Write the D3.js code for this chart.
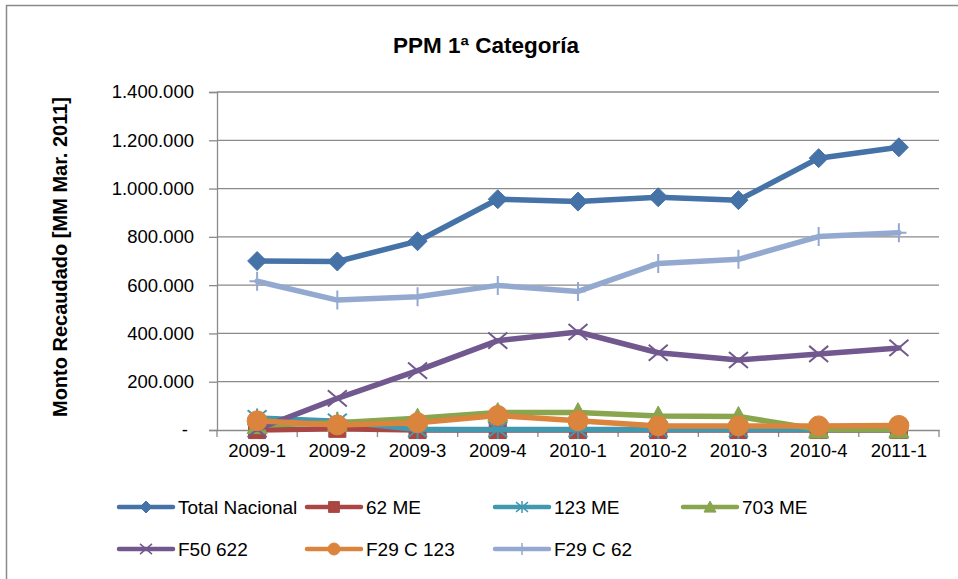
<!DOCTYPE html>
<html>
<head>
<meta charset="utf-8">
<script src="https://cdn.jsdelivr.net/npm/d3@7"></script>
<style>
  body { margin: 0; background: #fff; }
  text { font-family: 'Liberation Sans', Arial, sans-serif; fill: #000; }
</style>
</head>
<body>
<div id="chart"></div>
<script>
const categories = ['2009-1', '2009-2', '2009-3', '2009-4', '2010-1', '2010-2', '2010-3', '2010-4', '2011-1'];

const totalNacional = [700000, 698000, 782000, 956000, 946000, 964000, 952000, 1126000, 1171000];
const me62 = [0, 5000, 0, 0, 0, 0, 0, 0, 0];
const me123 = [50000, 36000, 2000, 2000, 2000, 2000, 2000, 2000, 2000];
const me703 = [20000, 30000, 49000, 72000, 72000, 58000, 56000, 2000, 2000];
const f50622 = [3000, 131000, 246000, 370000, 406000, 320000, 290000, 315000, 340000];
const f29c123 = [38000, 21000, 30000, 60000, 38000, 17000, 17000, 17000, 19000];
const f29c62 = [616000, 538000, 552000, 599000, 574000, 690000, 707000, 801000, 817000];

const yTicks = [0, 200000, 400000, 600000, 800000, 1000000, 1200000, 1400000];
const yTickLabels = ['-', '200.000', '400.000', '600.000', '800.000', '1.000.000', '1.200.000', '1.400.000'];

const series = [
  { name: 'Total Nacional', values: totalNacional, color: '#4572A7', marker: 'diamond' },
  { name: '62 ME', values: me62, color: '#AA4643', marker: 'square' },
  { name: '123 ME', values: me123, color: '#4198AF', marker: 'star' },
  { name: '703 ME', values: me703, color: '#89A54E', marker: 'triangle' },
  { name: 'F50 622', values: f50622, color: '#71588F', marker: 'x' },
  { name: 'F29 C 123', values: f29c123, color: '#DB843D', marker: 'circle' },
  { name: 'F29 C 62', values: f29c62, color: '#93A9CF', marker: 'plus' },
];

const size = { width: 958, height: 579 };
const plot = { left: 217, right: 939, top: 92, bottom: 430 };

const svg = d3.select('#chart')
  .append('svg')
  .attr('width', size.width)
  .attr('height', size.height);

// outer chart frame
svg.append('rect')
  .attr('x', 6.5).attr('y', 5.5)
  .attr('width', 980).attr('height', 600)
  .attr('fill', 'none')
  .attr('stroke', '#8a8a8a')
  .attr('stroke-width', 1.5);

const x = d3.scaleBand()
  .domain(categories)
  .range([plot.left, plot.right]);
const cx = (c) => x(c) + x.bandwidth() / 2;

const y = d3.scaleLinear()
  .domain([0, 1400000])
  .range([plot.bottom, plot.top]);

// gridlines
svg.append('g')
  .selectAll('line')
  .data(yTicks.slice(1))
  .join('line')
  .attr('x1', plot.left).attr('x2', plot.right)
  .attr('y1', (d) => y(d)).attr('y2', (d) => y(d))
  .attr('stroke', '#8a8a8a')
  .attr('stroke-width', 1.3);

// y axis
const yAxis = svg.append('g')
  .attr('transform', `translate(${plot.left},0)`)
  .call(d3.axisLeft(y).tickValues(yTicks).tickSize(8).tickPadding(15)
    .tickFormat((d, i) => yTickLabels[i]));
yAxis.select('.domain').attr('stroke', '#8a8a8a').attr('stroke-width', 1.3);
yAxis.selectAll('.tick line').attr('stroke', '#8a8a8a').attr('stroke-width', 1.3);
yAxis.selectAll('.tick text')
  .style('font-family', "'Liberation Sans', Arial, sans-serif")
  .style('font-size', '18.5px')
  .attr('fill', '#000')
  .attr('dx', (d) => (d === 0 ? -6 : 0));

// x axis
const xAxis = svg.append('g')
  .attr('transform', `translate(0,${plot.bottom})`)
  .call(d3.axisBottom(x).tickSize(0).tickPadding(14));
xAxis.select('.domain').attr('stroke', '#8a8a8a').attr('stroke-width', 1.3);
xAxis.selectAll('.tick text')
  .style('font-family', "'Liberation Sans', Arial, sans-serif")
  .style('font-size', '18.5px')
  .attr('fill', '#000');
xAxis.selectAll('.sep')
  .data(categories.concat(['end']))
  .join('line')
  .attr('x1', (d, i) => (i < categories.length ? x(d) : plot.right))
  .attr('x2', (d, i) => (i < categories.length ? x(d) : plot.right))
  .attr('y1', 0).attr('y2', 7)
  .attr('stroke', '#8a8a8a')
  .attr('stroke-width', 1.3);

// marker shapes
const markerPath = (type, s) => {
  const h = s / 2;
  switch (type) {
    case 'diamond': return `M0,${-h}L${h},0L0,${h}L${-h},0Z`;
    case 'square': return `M${-h * 0.9},${-h * 0.9}H${h * 0.9}V${h * 0.9}H${-h * 0.9}Z`;
    case 'triangle': return `M0,${-h}L${h},${h * 0.85}L${-h},${h * 0.85}Z`;
    case 'circle': return d3.symbol(d3.symbolCircle, Math.PI * h * h)();
    case 'x': return `M${-h},${-h * 0.85}L${h},${h * 0.85}M${-h},${h * 0.85}L${h},${-h * 0.85}`;
    case 'star': return `M${-h},${-h * 0.8}L${h},${h * 0.8}M${-h},${h * 0.8}L${h},${-h * 0.8}M0,${-h}V${h}`;
    case 'plus': return `M0,${-h}V${h}M${-h * 0.8},0H${h * 0.8}`;
    default: return '';
  }
};
const filled = (type) => ['diamond', 'square', 'triangle', 'circle'].includes(type);

const line = d3.line()
  .x((d) => cx(d.cat))
  .y((d) => y(d.val));

const markerSize = { diamond: 19, square: 19, triangle: 20, circle: 20, x: 19, star: 19, plus: 19 };

series.forEach((s) => {
  const pts = s.values.map((v, i) => ({ cat: categories[i], val: v }));
  const g = svg.append('g');
  g.append('path')
    .attr('d', line(pts))
    .attr('fill', 'none')
    .attr('stroke', s.color)
    .attr('stroke-width', 5.5)
    .attr('stroke-linejoin', 'round')
    .attr('stroke-linecap', 'round');
  g.selectAll('.mk')
    .data(pts)
    .join('path')
    .attr('transform', (d) => `translate(${cx(d.cat)},${y(d.val)})`)
    .attr('d', markerPath(s.marker, markerSize[s.marker]))
    .attr('fill', filled(s.marker) ? s.color : 'none')
    .attr('stroke', s.color)
    .attr('stroke-width', filled(s.marker) ? 1 : 2);
});

// title
svg.append('text')
  .attr('x', 486).attr('y', 53)
  .attr('text-anchor', 'middle')
  .style('font-size', '22.5px')
  .style('font-weight', 'bold')
  .text('PPM 1ª Categoría');

// y axis title
svg.append('text')
  .attr('transform', 'translate(67,257) rotate(-90)')
  .attr('text-anchor', 'middle')
  .style('font-size', '20px')
  .style('font-weight', 'bold')
  .text('Monto Recaudado [MM Mar. 2011]');

// legend
const legend = svg.append('g');
series.forEach((s, i) => {
  const col = i % 4;
  const row = Math.floor(i / 4);
  const lx = 119 + col * 188;
  const ly = 507 + row * 42;
  const item = legend.append('g').attr('transform', `translate(${lx},${ly})`);
  item.append('line')
    .attr('x1', 0).attr('x2', 54)
    .attr('y1', 0).attr('y2', 0)
    .attr('stroke', s.color)
    .attr('stroke-width', 4.5)
    .attr('stroke-linecap', 'round');
  item.append('path')
    .attr('transform', 'translate(27,0)')
    .attr('d', markerPath(s.marker, 12))
    .attr('fill', filled(s.marker) ? s.color : 'none')
    .attr('stroke', s.color)
    .attr('stroke-width', filled(s.marker) ? 1 : 1.5);
  item.append('text')
    .attr('x', 59).attr('y', 0)
    .attr('dy', '0.35em')
    .style('font-size', '19px')
    .text(s.name);
});
</script>
</body>
</html>
